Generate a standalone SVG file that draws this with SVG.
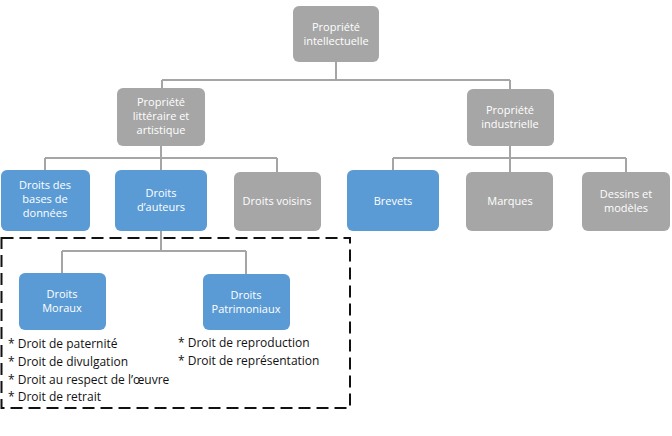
<svg xmlns="http://www.w3.org/2000/svg" width="672" height="436" viewBox="0 0 672 436">
<style>
.g{fill:#a6a6a6}
.b{fill:#5b9bd5}
.n text{font-family:"Open Sans","Liberation Sans",sans-serif;font-size:11px;fill:#fff;text-anchor:middle}
.c{stroke:#a5a5a5;stroke-width:2;fill:none}
.t{font-family:"Open Sans","Liberation Sans",sans-serif;font-size:12px;fill:#111}
</style>
<rect width="672" height="436" fill="#fff"/>
<g id="connectors">
<path class="c" d="M336 62V80M162 80H510M162 80V88M510 80V89"/>
<path class="c" d="M161 146V158M45 158H277M45 158V170M161 158V170M277 158V172"/>
<path class="c" d="M510 146V158M393 158H626M393 158V170M510 158V172M626 158V172"/>
<path class="c" d="M161 231V251M62 251H246M62 251V273M246 251V274"/>
</g>
<rect id="scope" x="1.5" y="238" width="348.5" height="170" fill="none" stroke="#111" stroke-width="2" stroke-dasharray="12,6"/>
<g id="pi" class="n"><rect class="g" x="293" y="6" width="86" height="56" rx="6"/><text x="336" y="31">Propriété</text><text x="336" y="45">intellectuelle</text></g>
<g id="pla" class="n"><rect class="g" x="117" y="88" width="88" height="58" rx="6"/><text x="161" y="106">Propriété</text><text x="161" y="120">littéraire et</text><text x="161" y="134">artistique</text></g>
<g id="pind" class="n"><rect class="g" x="467" y="89" width="87" height="57" rx="6"/><text x="510" y="114">Propriété</text><text x="510" y="128">industrielle</text></g>
<g id="dbd" class="n"><rect class="b" x="1" y="170" width="89" height="61" rx="6"/><text x="45" y="189">Droits des</text><text x="45" y="203">bases de</text><text x="45" y="217">données</text></g>
<g id="da" class="n"><rect class="b" x="115" y="170" width="92" height="61" rx="6"/><text x="161" y="197">Droits</text><text x="161" y="211">d’auteurs</text></g>
<g id="dv" class="n"><rect class="g" x="234" y="172" width="87" height="59" rx="6"/><text x="277" y="205">Droits voisins</text></g>
<g id="brevets" class="n"><rect class="b" x="347" y="170" width="92" height="61" rx="6"/><text x="393" y="205">Brevets</text></g>
<g id="marques" class="n"><rect class="g" x="466" y="172" width="87" height="59" rx="6"/><text x="510" y="205">Marques</text></g>
<g id="dessins" class="n"><rect class="g" x="582" y="172" width="88" height="59" rx="6"/><text x="626" y="198">Dessins et</text><text x="626" y="212">modèles</text></g>
<g id="dm" class="n"><rect class="b" x="19" y="273" width="87" height="57" rx="6"/><text x="62" y="298">Droits</text><text x="62" y="312">Moraux</text></g>
<g id="dp" class="n"><rect class="b" x="203" y="274" width="87" height="56" rx="6"/><text x="246" y="299">Droits</text><text x="246" y="313">Patrimoniaux</text></g>
<g id="lists">
<text class="t" x="8" y="348">* Droit de paternité</text>
<text class="t" x="8" y="366">* Droit de divulgation</text>
<text class="t" x="8" y="384">* Droit au respect de l’œuvre</text>
<text class="t" x="8" y="401">* Droit de retrait</text>
<text class="t" x="178" y="347">* Droit de reproduction</text>
<text class="t" x="178" y="365">* Droit de représentation</text>
</g>
</svg>
